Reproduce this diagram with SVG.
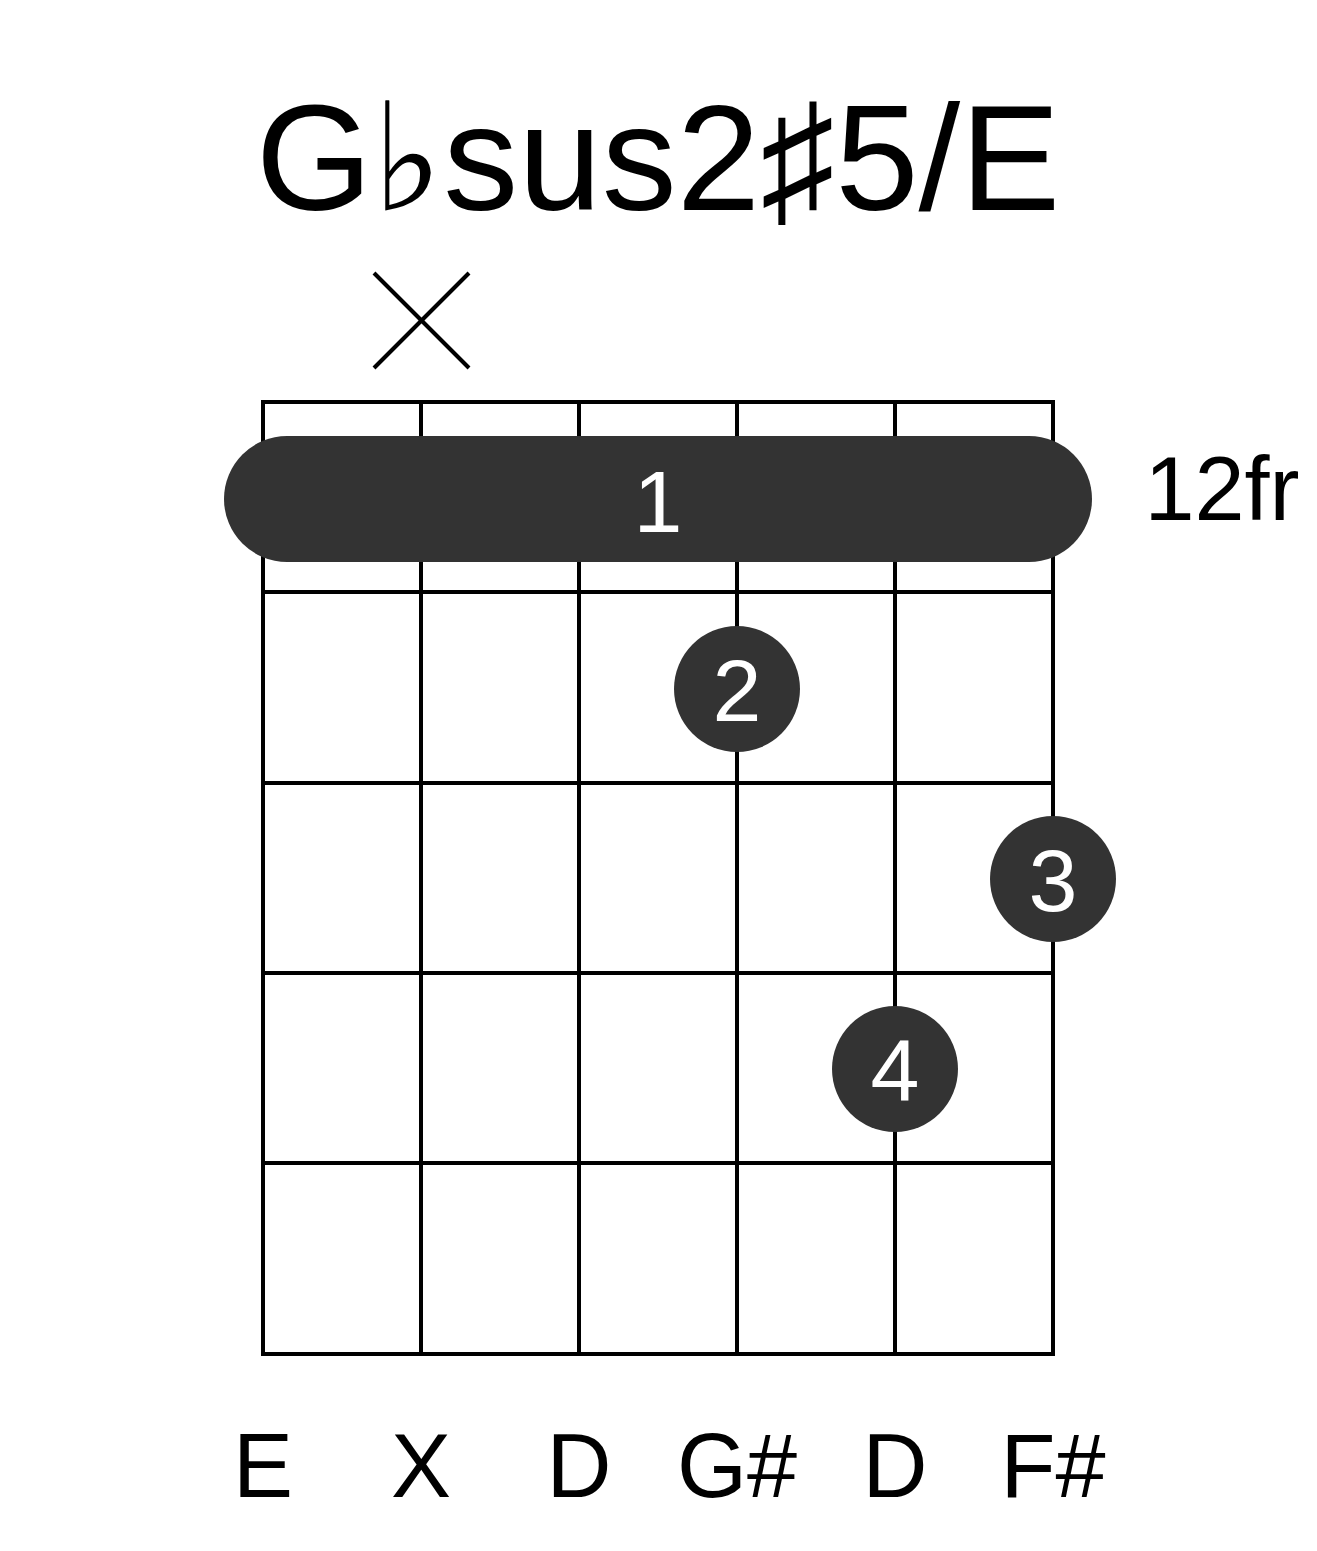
<svg xmlns="http://www.w3.org/2000/svg" width="1317" height="1551" viewBox="0 0 1317 1551">
<style>
.g{stroke:#000;stroke-width:4;fill:none}
.t{font-family:"Liberation Sans",Arial,sans-serif;text-anchor:middle}
.d{fill:#333}
.w{fill:#fff;font-family:"Liberation Sans",Arial,sans-serif;text-anchor:middle;font-size:88px}
</style>
<rect width="1317" height="1551" fill="#fff"/>
<text class="t" x="658" y="210" font-size="150">G♭sus2♯5/E</text>
<g id="mute"><line class="g" x1="374" y1="273" x2="469" y2="368" stroke-width="3"/><line class="g" x1="469" y1="273" x2="374" y2="368" stroke-width="3"/></g>
<g id="grid">
<rect class="g" x="263" y="402" width="790" height="952"/>
<line class="g" x1="421" y1="402" x2="421" y2="1354"/>
<line class="g" x1="579" y1="402" x2="579" y2="1354"/>
<line class="g" x1="737" y1="402" x2="737" y2="1354"/>
<line class="g" x1="895" y1="402" x2="895" y2="1354"/>
<line class="g" x1="263" y1="592" x2="1053" y2="592"/>
<line class="g" x1="263" y1="783" x2="1053" y2="783"/>
<line class="g" x1="263" y1="973" x2="1053" y2="973"/>
<line class="g" x1="263" y1="1163" x2="1053" y2="1163"/>
</g>
<g id="barre"><rect class="d" x="224" y="436" width="868" height="126" rx="63"/><text class="w" x="658" y="532">1</text></g>
<g id="f2"><circle class="d" cx="737" cy="689" r="63"/><text class="w" x="737" y="721">2</text></g>
<g id="f3"><circle class="d" cx="1053" cy="879" r="63"/><text class="w" x="1053" y="911">3</text></g>
<g id="f4"><circle class="d" cx="895" cy="1069" r="63"/><text class="w" x="895" y="1101">4</text></g>
<text class="t" x="1222" y="520" font-size="90">12fr</text>
<g id="labels" class="t" font-size="90">
<text x="263" y="1497">E</text><text x="421" y="1497">X</text><text x="579" y="1497">D</text>
<text x="737" y="1497">G#</text><text x="895" y="1497">D</text><text x="1053" y="1497">F#</text>
</g>
</svg>
